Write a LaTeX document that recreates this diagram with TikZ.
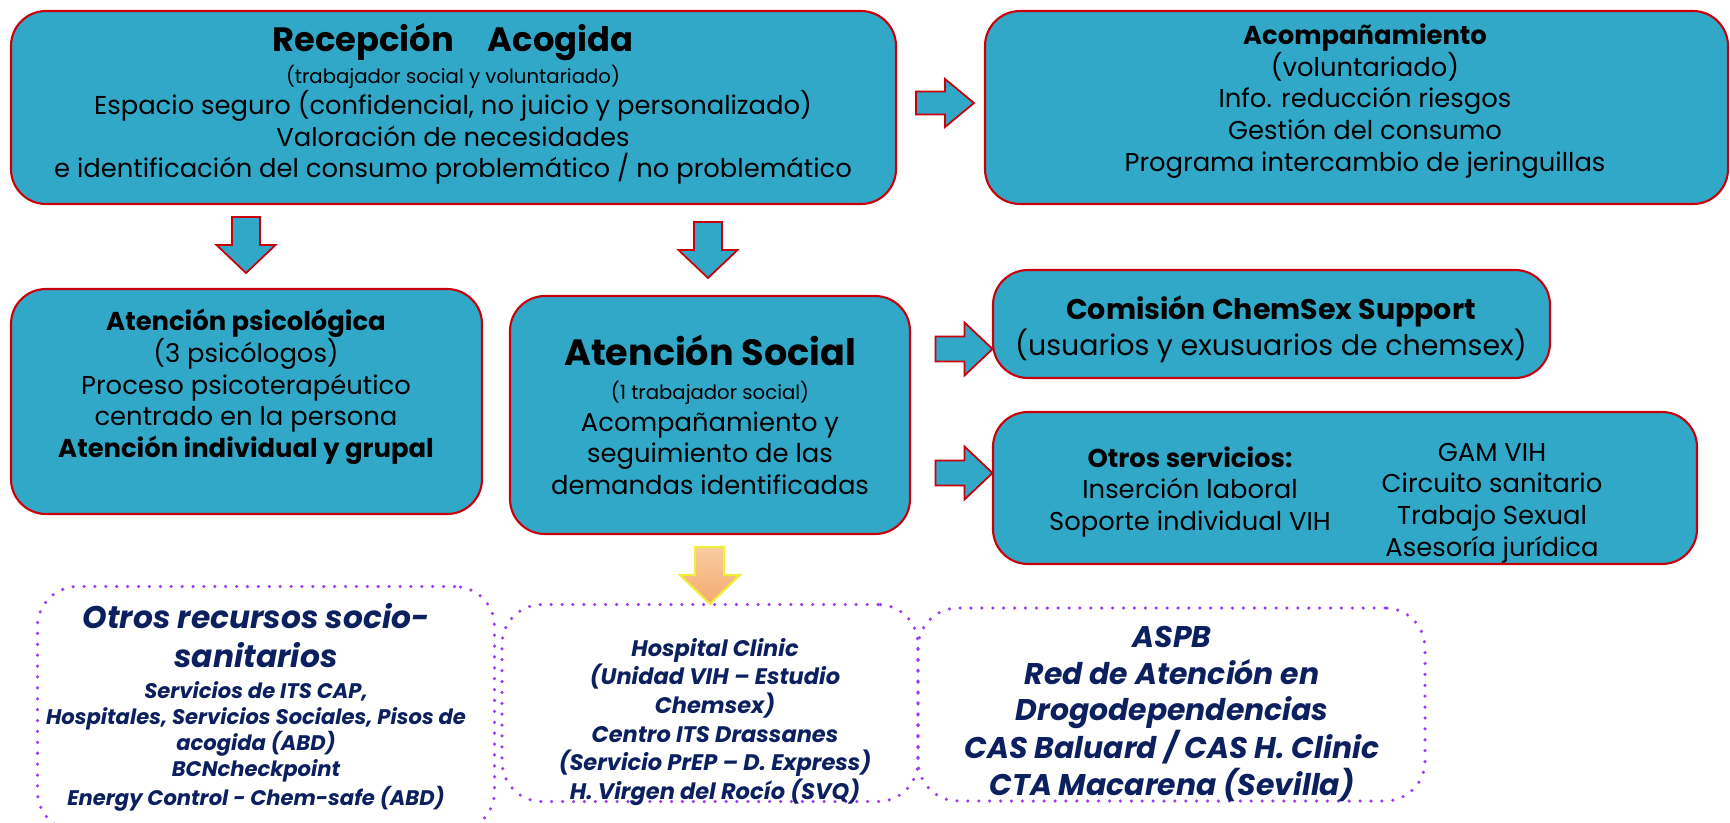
\documentclass[tikz,border=0pt]{standalone}
\usepackage{fontspec}
\setmainfont{Poppins}

\definecolor{cajaAzul}{RGB}{49,168,200}
\definecolor{bordeRojo}{RGB}{200,0,10}
\definecolor{azulOsc}{RGB}{12,32,96}
\definecolor{morado}{RGB}{155,60,245}
\definecolor{naranjaA}{RGB}{248,204,160}
\definecolor{naranjaB}{RGB}{244,170,112}
\definecolor{amarillo}{RGB}{238,240,60}

\newcommand{\titulo}{\fontsize{19.2}{23}\selectfont\bfseries}
\newcommand{\subt}{\fontsize{11.2}{13}\selectfont}
\newcommand{\recurso}{\bfseries\itshape\color{azulOsc}}

\tikzset{
  caja/.style={draw=bordeRojo, fill=cajaAzul, line width=1.2pt, rounded corners=7mm},
  punteada/.style={draw=morado, line width=2pt, dash pattern=on 0pt off 6.2pt, line cap=round, rounded corners=8mm},
  flecha/.style={draw=bordeRojo, fill=cajaAzul, line width=1pt},
  txt/.style={align=center, inner sep=0pt, font=\fontsize{14.7}{18}\selectfont},
  % flecha de bloque: largo, ancho, ancho del cuerpo, largo de la punta
  pics/bloque/.style n args={4}{code={
    \path[pic actions] (-#1/2,-#3/2) -- ({#1/2-#4},-#3/2) -- ({#1/2-#4},-#2/2) -- (#1/2,0)
      -- ({#1/2-#4},#2/2) -- ({#1/2-#4},#3/2) -- (-#1/2,#3/2) -- cycle;}},
}

\begin{document}
\begin{tikzpicture}[x=0.2mm,y=-0.2mm]
\path[use as bounding box, fill=white] (0,0) rectangle (1730,822);

% cajas de arriba
\node[caja, minimum width=177mm, minimum height=38.6mm] (rec) at (453.5,107.5) {};
\node[caja, minimum width=148.6mm, minimum height=38.6mm] (acomp) at (1356.5,107.5) {};
\node[txt] (recT) at (453,104) {{\titulo Recepción\quad Acogida}\\
  {\subt (trabajador social y voluntariado)}\\
  Espacio seguro (confidencial, no juicio y personalizado)\\
  Valoración de necesidades\\
  e identificación del consumo problemático / no problemático};
\node[txt] (acompT) at (1365,101) {\textbf{Acompañamiento}\\ (voluntariado)\\ Info. reducción riesgos\\
  Gestión del consumo\\ Programa intercambio de jeringuillas};

% cajas del medio
\node[caja, minimum width=94.2mm, minimum height=45mm] (psic) at (246.5,401.5) {};
\node[caja, minimum width=80mm, minimum height=47.6mm] (social) at (710,415) {};
\node[caja, minimum width=111.4mm, minimum height=21.6mm] (comis) at (1271.5,324) {};
\node[caja, minimum width=140.8mm, minimum height=30.4mm] (otros) at (1345,488) {};

\node[txt] (psicT) at (246,387) {\textbf{Atención psicológica}\\ (3 psicólogos)\\ Proceso psicoterapéutico\\
  centrado en la persona\\ \textbf{Atención individual y grupal}};
\node[txt] (socialT) at (710,415) {{\fontsize{20.8}{25}\selectfont\bfseries Atención Social}\\[1pt]
  {\subt (1 trabajador social)}\\
  Acompañamiento y\\ seguimiento de las\\ demandas identificadas};
\node[txt, font=\fontsize{16.2}{19}\selectfont] (comisT) at (1271,329) {\textbf{Comisión ChemSex Support}\\
  (usuarios y exusuarios de chemsex)};
\node[txt] (otrosL) at (1190,492) {\textbf{Otros servicios:}\\ Inserción laboral\\ Soporte individual VIH};
\node[txt] (otrosR) at (1492,503) {GAM VIH\\ Circuito sanitario\\ Trabajo Sexual\\ Asesoría jurídica};

% flechas
\pic[flecha] at (945,103) {bloque={58}{48}{23}{29}};
\pic[flecha, rotate=-90] at (246,245) {bloque={56}{59}{28}{28}};
\pic[flecha, rotate=-90] at (708,250) {bloque={56}{59}{28}{28}};
\pic[flecha] at (964,349) {bloque={57}{53}{25}{28}};
\pic[flecha] at (964,473) {bloque={57}{53}{25}{28}};
\path[draw=amarillo, line width=1.2pt, top color=naranjaA, bottom color=naranjaB]
  (695,547) -- (724,547) -- (724,575) -- (740,575) -- (710,604) -- (680,575) -- (695,575) -- cycle;

% recursos externos
\node[punteada, minimum width=91.4mm, minimum height=49mm] (rec1) at (266,709) {};
\node[punteada, minimum width=83.2mm, minimum height=39.4mm] (rec2) at (710,703) {};
\node[punteada, minimum width=101.4mm, minimum height=38.6mm] (rec3) at (1171.5,704.5) {};

\node[txt, font=\recurso\fontsize{17.8}{21}\selectfont] (rec1T) at (256,707) {Otros recursos socio-\\[1.5pt] sanitarios\\[-3.5pt]
  {\fontsize{12}{14.8}\selectfont Servicios de ITS CAP,}\\[-6.2pt]
  {\fontsize{12}{14.8}\selectfont Hospitales, Servicios Sociales, Pisos de}\\[-6.2pt]
  {\fontsize{12}{14.8}\selectfont acogida (ABD)}\\[-6.2pt]
  {\fontsize{12}{14.8}\selectfont BCNcheckpoint}\\[-4.7pt]
  {\fontsize{12}{14.8}\selectfont Energy Control - Chem-safe (ABD)}};
\node[txt, font=\recurso\fontsize{12.8}{16.3}\selectfont] (rec2T) at (715,722) {Hospital Clinic\\ (Unidad VIH – Estudio\\
  Chemsex)\\ Centro ITS Drassanes\\ (Servicio PrEP – D. Express)\\ H. Virgen del Rocío (SVQ)};
\node[txt, font=\recurso\fontsize{17}{20.8}\selectfont] (rec3T) at (1172,714) {ASPB\\ Red de Atención en\\
  Drogodependencias\\ CAS Baluard / CAS H. Clinic\\ CTA Macarena (Sevilla)};
\end{tikzpicture}
\end{document}
